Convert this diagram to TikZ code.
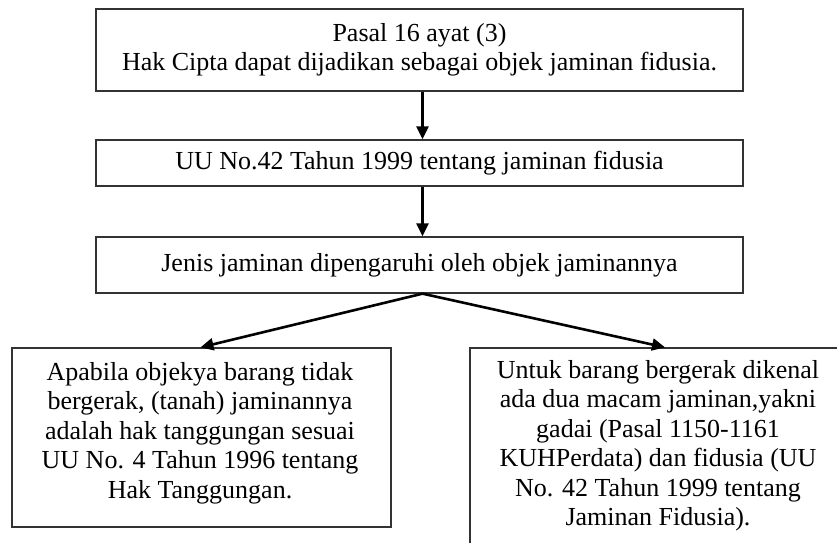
\documentclass[tikz,border=0pt]{standalone}
\usepackage{fontspec}
\setmainfont{Liberation Serif}
\usetikzlibrary{arrows.meta}

\begin{document}
\begin{tikzpicture}[
  x=1pt, y=-1pt,
  font=\fontsize{26}{29.5}\selectfont,
  >={Triangle[length=13pt, width=12pt]},
  kotak/.style={
    draw=black!80, line width=1.3pt, inner sep=0pt, align=center
  },
  isi/.style={align=center, inner sep=0pt, anchor=north},
  panah/.style={->, line width=2.6pt, draw=black}
]
  \clip (0,0) rectangle (837,542);

  \node[kotak, minimum width=647pt, minimum height=82pt] (pasal) at (419.5,50)
    {Pasal 16 ayat (3)\\Hak Cipta dapat dijadikan sebagai objek jaminan fidusia.};
  \node[kotak, minimum width=647pt, minimum height=46pt] (uu) at (419.5,163)
    {UU No.42 Tahun 1999 tentang jaminan fidusia};
  \node[kotak, minimum width=647pt, minimum height=56pt] (jenis) at (419.5,265)
    {Jenis jaminan dipengaruhi oleh objek jaminannya};

  % two kinds of objects
  \node[kotak, minimum width=379pt, minimum height=179pt] (tidak) at (201.5,437.5) {};
  \node[isi] (tidakisi) at (200,362) {Apabila objekya barang tidak\\
    bergerak, (tanah) jaminannya\\adalah hak tanggungan sesuai\\
    UU No. 4 Tahun 1996 tentang\\Hak Tanggungan.};
  \node[kotak, minimum width=376pt, minimum height=212pt] (gerak) at (658,454) {};
  \node[isi] (gerakisi) at (658,360) {Untuk barang bergerak dikenal\\
    ada dua macam jaminan,yakni\\gadai (Pasal 1150-1161\\
    KUHPerdata) dan fidusia (UU\\No. 42 Tahun 1999 tentang\\
    Jaminan Fidusia).};

  \draw[panah] ([xshift=3pt]pasal.south) -- ([xshift=3pt]uu.north);
  \draw[panah] ([xshift=3pt]uu.south) -- ([xshift=3pt]jenis.north);
  \draw[panah] ([xshift=3pt]jenis.south) -- ([xshift=-1pt]tidak.north);
  \draw[panah] ([xshift=3pt]jenis.south) -- ([xshift=7pt]gerak.north);
\end{tikzpicture}
\end{document}
